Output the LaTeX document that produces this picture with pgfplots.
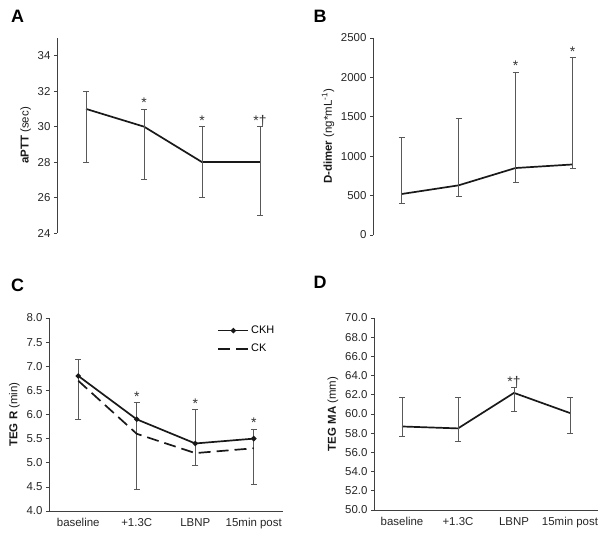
\documentclass[border=0pt]{standalone}
\usepackage{fontspec}
\setmainfont{Liberation Sans}
\usepackage{pgfplots}
\usepackage{pgfplotstable}
\pgfplotsset{compat=1.18}

\pgfplotstableread{
x y lo hi
0 31 28 32
1 30 27 31
2 28 26 30
3 28 25 30
}\dataA
\pgfplotstableread{
x y lo hi
0 520 400 1240
1 630 490 1480
2 850 670 2070
3 895 850 2250
}\dataB
\pgfplotstableread{
x y lo hi
0 6.8 5.9 7.15
1 5.9 4.45 6.25
2 5.4 4.95 6.1
3 5.5 4.55 5.7
}\dataCKH
\pgfplotstableread{
x y
0 6.7
1 5.6
2 5.2
3 5.3
}\dataCK
\pgfplotstableread{
x y lo hi
0 58.7 57.7 61.7
1 58.5 57.1 61.7
2 62.2 60.3 62.8
3 60.1 58.0 61.7
}\dataD

\pgfplotsset{
  panel/.style={
    scale only axis, anchor=south west,
    xmin=-0.5, xmax=3.5,
    axis y line*=left,
    axis line style={-, black!75, line width=0.7bp},
    tick style={black!75, line width=0.7bp},
    tick align=outside, major tick length=3bp, minor tick length=4bp,
    ytick pos=left,
    ticklabel style={font=\fontsize{11.5}{13}\selectfont, text=black!85},
    /pgf/number format/assume math mode=true,
    ylabel style={font=\fontsize{11.5}{13}\selectfont, text=black!90},
    clip=false,
  },
  noxaxis/.style={axis x line=none, xtick=\empty},
  withxaxis/.style={axis x line*=bottom, xtick={0,1,2,3},
    xticklabels={baseline,+1.3C,LBNP,15min post},
    minor xtick={-0.5,0.5,1.5,2.5,3.5},
    xtick style={draw=none}, minor tick style={black!75, line width=0.7bp},
    x tick label style={yshift=-1bp}},
  mainline/.style={black!90, line width=1.7bp, mark=none},
  ebars/.style={error bars/.cd, y dir=both, y explicit,
    error bar style={black!65, line width=0.7bp},
    error mark options={black!65, line width=0.7bp, mark size=3bp, rotate=90}},
  sig/.style={draw=none, mark=none, nodes near coords, point meta=explicit symbolic,
    every node near coord/.style={anchor=base, inner sep=0pt, yshift=1bp,
      font=\fontsize{14}{15}\selectfont, text=black!80}},
}

\begin{document}
\begin{tikzpicture}
\useasboundingbox (0bp,0bp) rectangle (607bp,-540bp);

% Panel letters
\node[font=\fontsize{18}{20}\selectfont\bfseries] at (17.5bp,-16.5bp) {A};
\node[font=\fontsize{18}{20}\selectfont\bfseries] at (320bp,-16.5bp) {B};
\node[font=\fontsize{18}{20}\selectfont\bfseries] at (17.5bp,-285bp) {C};
\node[font=\fontsize{18}{20}\selectfont\bfseries] at (320bp,-282bp) {D};

% A
\begin{axis}[panel, noxaxis, at={(57bp,-233bp)}, width=232bp, height=195bp,
  ymin=24, ymax=35, ytick={24,26,...,34},
  ylabel={\textbf{aPTT} (sec)}]
\addplot[mainline, ebars] table[x=x, y=y,
  y error plus expr=\thisrow{hi}-\thisrow{y},
  y error minus expr=\thisrow{y}-\thisrow{lo}] {\dataA};
\addplot[sig] table[meta=lab] {
x y lab
1 31 *
2 30 *
3 30 *†
};
\end{axis}

% B
\begin{axis}[panel, noxaxis, at={(373bp,-235bp)}, width=228bp, height=197bp,
  ymin=0, ymax=2500, ytick={0,500,...,2500},
  yticklabel style={/pgf/number format/1000 sep={}},
  ylabel={\textbf{D-dimer} (ng*mL\textsuperscript{-1})}]
\addplot[mainline, ebars] table[x=x, y=y,
  y error plus expr=\thisrow{hi}-\thisrow{y},
  y error minus expr=\thisrow{y}-\thisrow{lo}] {\dataB};
\addplot[sig] table[meta=lab] {
x y lab
2 2070 *
3 2250 *
};
\end{axis}

% C
\begin{axis}[panel, withxaxis, at={(49bp,-511bp)}, width=234bp, height=193bp,
  ymin=4, ymax=8, ytick={4,4.5,...,8},
  yticklabel style={/pgf/number format/.cd, fixed, fixed zerofill, precision=1},
  ylabel={\textbf{TEG R} (min)},
  legend style={draw=none, fill=none, at={(0.715,0.975)}, anchor=north west,
    font=\fontsize{11}{13}\selectfont, row sep=5bp, inner sep=1bp},
  legend cell align=left,
  legend image code/.code={\draw[#1, mark repeat=2, mark phase=2] plot coordinates {(0bp,0bp) (15bp,0bp) (30bp,0bp)};}]
\addplot[mainline, mark=*, mark size=1.7bp, ebars] table[x=x, y=y,
  y error plus expr=\thisrow{hi}-\thisrow{y},
  y error minus expr=\thisrow{y}-\thisrow{lo}] {\dataCKH};
\addlegendentry{CKH}
\addplot[black!90, line width=1.7bp, dash pattern=on 12bp off 6bp, mark=none] table[x=x, y=y] {\dataCK};
\addlegendentry{CK}
\addplot[sig, forget plot] table[meta=lab] {
x y lab
1 6.25 *
2 6.1 *
3 5.7 *
};
\end{axis}

% D
\begin{axis}[panel, withxaxis, at={(374bp,-510bp)}, width=224bp, height=192bp,
  ymin=50, ymax=70, ytick={50,52,...,70},
  yticklabel style={/pgf/number format/.cd, fixed, fixed zerofill, precision=1},
  ylabel={\textbf{TEG MA} (mm)}]
\addplot[mainline, ebars] table[x=x, y=y,
  y error plus expr=\thisrow{hi}-\thisrow{y},
  y error minus expr=\thisrow{y}-\thisrow{lo}] {\dataD};
\addplot[sig] table[meta=lab] {
x y lab
2 62.8 *†
};
\end{axis}
\end{tikzpicture}
\end{document}
